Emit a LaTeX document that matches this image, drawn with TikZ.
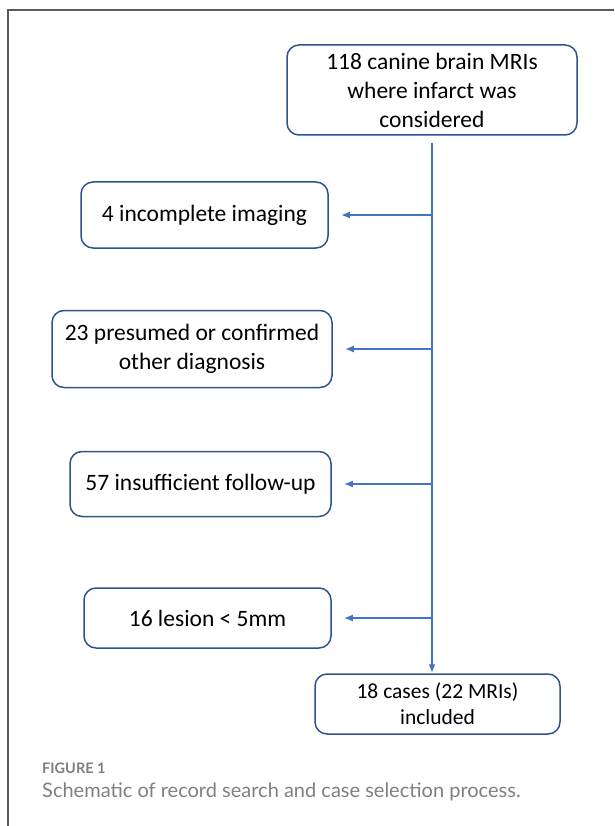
\documentclass[tikz,border=0pt]{standalone}
\usepackage{fontspec}
\setmainfont{Carlito}
\newfontfamily\capfont{Lato}
\usetikzlibrary{positioning, arrows.meta}
\definecolor{flowblue}{HTML}{4472C4}
\definecolor{boxblue}{HTML}{2F528F}
\definecolor{capgray}{HTML}{7F7F7F}
\definecolor{framegray}{HTML}{5A5A5A}
\tikzset{
  flowbox/.style={draw=boxblue, line width=1.5pt, rounded corners=12pt, align=center,
    inner sep=0pt, font=\fontsize{23.5}{29}\selectfont},
  flowarrow/.style={flowblue, line width=1.8pt, -{Latex[length=9pt, width=7pt]}},
  captext/.style={anchor=base west, inner sep=0pt, text=capgray},
}

\begin{document}
\begin{tikzpicture}[x=1pt, y=-1pt]
                    \useasboundingbox (0,0) rectangle (614,826);
                    \draw[framegray, line width=1.6pt] (8,826) -- (8,10) -- (614,10);

                    \node[flowbox, minimum width=290pt, minimum height=90pt] (start) at (432,90)
                        {118 canine brain MRIs\\where infarct was\\considered};

                    \node[flowbox, minimum width=247pt, minimum height=66pt] (excl1) at (204.5,215) {4 incomplete imaging};
                    \node[flowbox, minimum width=280pt, minimum height=77pt] (excl2) at (192,349) {23 presumed or confirmed\\other diagnosis};
                    \node[flowbox, minimum width=261pt, minimum height=65pt] (excl3) at (200.5,484) {57 insufficient follow-up};
                    \node[flowbox, minimum width=247pt, minimum height=60pt] (excl4) at (207.5,618) {16 lesion < 5mm};

                    \node[flowbox, minimum width=245pt, minimum height=60pt, font=\fontsize{21.5}{26}\selectfont] (done) at (437.5,704)
                        {18 cases (22 MRIs)\\included};

                    \draw[flowarrow, shorten <=7pt] (start.south) -- (start.south |- done.north);
                    \foreach \n in {excl1, excl2, excl3, excl4}
                        \draw[flowarrow] (start.south |- \n.east) -- ([xshift=12pt]\n.east);

                    \node[captext, font=\capfont\bfseries\fontsize{14.5}{17}\selectfont] (figlabel) at (42,773) {FIGURE 1};
                    \node[captext, font=\capfont\fontsize{20}{23}\selectfont] (figcaption) at (42,797)
                        {Schematic of record search and case selection process.};
                 \end{tikzpicture}
\end{document}
